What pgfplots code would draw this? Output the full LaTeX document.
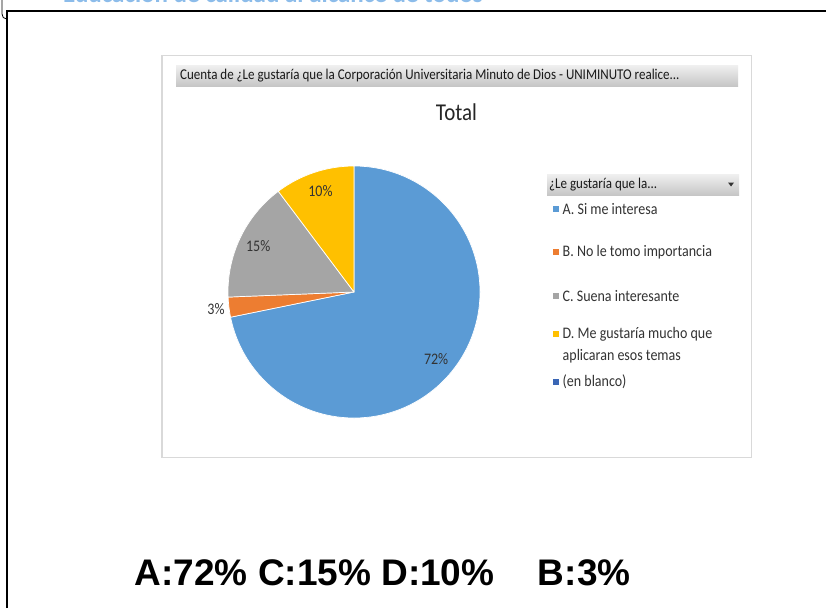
\documentclass[border=0pt]{standalone}
\usepackage{pgfplots}
\pgfplotsset{compat=1.18}
\usepackage{pgfplotstable}
\usepackage{fontspec}
\setmainfont{Carlito}
\newfontfamily\arialfont{Liberation Sans}

\definecolor{slice0}{HTML}{5B9BD5}
\definecolor{slice1}{HTML}{ED7D31}
\definecolor{slice2}{HTML}{A5A5A5}
\definecolor{slice3}{HTML}{FFC000}
\definecolor{blank}{HTML}{3A66B5}
\definecolor{lbl}{HTML}{333333}
\definecolor{boxgray}{HTML}{D9D9D9}
\definecolor{topblue}{HTML}{8CBCEA}

\newcommand\tall[1]{\scalebox{1}[1.15]{#1}}

% counts of answers (n = 39), printed percentage, label distance (pt)
\pgfplotstableread{
cnt pct rad
28 72 106
1 3 139
6 15 106
4 10 106
}\piedata

\begin{document}
\begin{tikzpicture}[x=1pt,y=-1pt]
\useasboundingbox (0,0) rectangle (826,608);
\fill[white] (0,0) rectangle (826,608);

% angles from the table
\pgfplotstablegetrowsof{\piedata}
\pgfmathtruncatemacro\nrows{\pgfplotsretval-1}
\gdef\total{0}
\foreach \i in {0,...,\nrows}{%
  \pgfplotstablegetelem{\i}{cnt}\of\piedata
  \pgfmathsetmacro\tmp{\total+\pgfplotsretval}\xdef\total{\tmp}}
\gdef\cur{90}
\foreach \i in {0,...,\nrows}{%
  \pgfplotstablegetelem{\i}{cnt}\of\piedata
  \pgfmathsetmacro\e{\cur-360*\pgfplotsretval/\total}
  \pgfmathsetmacro\m{(\cur+\e)/2}
  \expandafter\xdef\csname angS\i\endcsname{\cur}
  \expandafter\xdef\csname angE\i\endcsname{\e}
  \expandafter\xdef\csname angM\i\endcsname{\m}
  \pgfplotstablegetelem{\i}{pct}\of\piedata
  \expandafter\xdef\csname pct\i\endcsname{\pgfplotsretval}
  \pgfplotstablegetelem{\i}{rad}\of\piedata
  \expandafter\xdef\csname rad\i\endcsname{\pgfplotsretval}
  \xdef\cur{\e}}

% clipped top title (cut off in the original screenshot)
\begin{scope}
\clip (0,0) rectangle (826,3);
\node[anchor=base west, inner sep=0, text=topblue, font=\fontsize{25}{28}\selectfont\bfseries] at (63,2.5) {Educación de calidad al alcance de todos};
\end{scope}

% frame
\draw[line width=2pt] (6.5,608) -- (6.5,11) -- (826,11);
\draw[line width=0.8pt] (2,0) -- (2,14) to[out=-90,in=180] (6.5,19);

% chart box
\draw[boxgray, line width=1.5pt] (162,55.5) rectangle (751.5,457.5);
\shade[top color=gray!12, bottom color=gray!45] (176,65) rectangle (738,86);
\node[anchor=west, inner sep=0, font=\fontsize{13}{15}\selectfont, text=black!90] at (180,75.5) {\tall{Cuenta de ¿Le gustaría que la Corporación Universitaria Minuto de Dios - UNIMINUTO realice...}};
\node[font=\fontsize{21}{24}\selectfont, text=black!85] at (456.5,112) {\tall{Total}};

% legend
\shade[top color=gray!12, bottom color=gray!45] (547,174) rectangle (739,195);
\node[anchor=west, inner sep=0, font=\fontsize{13}{15}\selectfont, text=black!90] at (549,184.5) {\tall{¿Le gustaría que la...}};
\fill[black!80] (728,182.5) -- (734,182.5) -- (731,186.5) -- cycle;
\foreach \y/\c/\t in {209/slice0/A. Si me interesa, 252/slice1/B. No le tomo importancia, 296/slice2/C. Suena interesante, 334/slice3/D. Me gustaría mucho que, 382/blank/(en blanco)}{%
  \fill[\c] (553,\y-3) rectangle (559,\y+3);
  \node[anchor=west, inner sep=0, font=\fontsize{14}{16}\selectfont, text=lbl] at (562.5,\y) {\tall{\t}};}
\node[anchor=west, inner sep=0, font=\fontsize{14}{16}\selectfont, text=lbl] at (562.5,356) {\tall{aplicaran esos temas}};

% pie
\begin{axis}[at={(354pt,-292pt)}, anchor=center, hide axis, scale only axis,
  x=1pt, y=1pt, xmin=-150, xmax=150, ymin=-150, ymax=150, clip=false]
\pgfplotsinvokeforeach{0,...,3}{%
  \fill[fill=slice#1, draw=white, line width=0.7pt, line join=round]
    (axis cs:0,0) -- ++(\csname angS#1\endcsname:126pt)
    arc[start angle=\csname angS#1\endcsname, end angle=\csname angE#1\endcsname, radius=126pt] -- cycle;
}
\pgfplotsinvokeforeach{0,...,3}{%
  \path (axis cs:0,0) ++(\csname angM#1\endcsname:\csname rad#1\endcsname pt)
    node[font=\fontsize{14}{16}\selectfont, text=lbl] {\tall{\csname pct#1\endcsname\%}};
}
\end{axis}

% bottom summary
\node[anchor=base west, inner sep=0, font=\arialfont\bfseries\fontsize{37}{40}\selectfont] at (134.5,585) {A:72\% C:15\% D:10\%\hspace{43.5pt}B:3\%};
\end{tikzpicture}
\end{document}
